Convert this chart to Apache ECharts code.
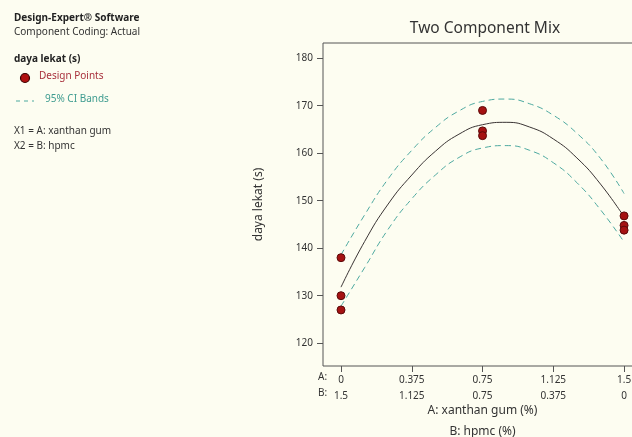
<!DOCTYPE html>
<html>
<head>
<meta charset="utf-8">
<script src="https://cdn.jsdelivr.net/npm/echarts@6/dist/echarts.min.js"></script>
<style>
  html, body { margin: 0; padding: 0; background: #fdfdf1; }
  #chart { width: 632px; height: 437px; }
</style>
</head>
<body>
<div id="chart"></div>
<script>
// design points (A: xanthan gum, response daya lekat)
var pointX = [0, 0, 0, 0.75, 0.75, 0.75, 1.5, 1.5, 1.5]
var pointY = [138, 130, 127, 169, 164.7, 163.7, 146.8, 144.8, 143.8]

// fitted curve + 95% CI bands
var curveX = [0, 0.125, 0.25, 0.375, 0.5, 0.625, 0.75, 0.875, 1, 1.125, 1.25, 1.375, 1.5]
var fitY = [131.8, 141.4, 149.3, 155.4, 160.4, 164.0, 166.0, 166.5, 165.5, 163.0, 159.0, 153.5, 146.6]
var upperY = [138.6, 147.0, 154.6, 160.6, 165.4, 168.9, 170.9, 171.4, 170.4, 168.0, 164.2, 158.9, 151.5]
var lowerY = [127.8, 135.9, 144.0, 150.4, 155.4, 159.1, 161.1, 161.6, 160.6, 158.0, 153.8, 148.1, 141.3]

// tick labels
var xTicks = [0, 0.375, 0.75, 1.125, 1.5]
var labelsA = ['0', '0.375', '0.75', '1.125', '1.5']
var labelsB = ['1.5', '1.125', '0.75', '0.375', '0']
var yTicks = [120, 130, 140, 150, 160, 170, 180]

var font = '"Noto Sans", "DejaVu Sans", sans-serif'
var teal = '#4da9a0'
var dark = '#333333'

function pairs(xs, ys) {
	var out = []
	for (var i = 0; i < xs.length; i++) out.push([xs[i], ys[i]])
	return out
}

var myChart = echarts.init(document.getElementById('chart'))
var options = {
	backgroundColor: '#fdfdf1',
	animation: false,
	textStyle: { fontFamily: font },
	title: {
		text: 'Two Component Mix',
		left: 480, top: 16, textAlign: 'center',
		textStyle: { fontFamily: font, fontSize: 15.5, fontWeight: 'normal', color: dark }
	},
	grid: {
		left: 323, top: 43, right: -10, bottom: 71,
		show: true, borderColor: '#555', borderWidth: 1,
		containLabel: false, outerBoundsMode: 'none'
	},
	xAxis: {
		type: 'value', min: -0.0954, max: 1.595,
		splitLine: { show: false },
		axisLine: { show: false, onZero: false },
		axisTick: { show: true, length: 6, lineStyle: { color: '#555' }, customValues: xTicks },
		axisLabel: {
			customValues: xTicks, color: dark, fontSize: 10, lineHeight: 16, margin: 6,
			formatter: function (v) {
				var i = xTicks.indexOf(v)
				return labelsA[i] + '\n' + labelsB[i]
			}
		},
		name: 'A: xanthan gum (%)\nB: hpmc (%)',
		nameLocation: 'middle', nameGap: 34, nameMoveOverlap: false,
		nameTextStyle: { color: dark, fontSize: 12, lineHeight: 21, fontFamily: font, verticalAlign: 'top' }
	},
	yAxis: {
		type: 'value', min: 115.2, max: 183.2,
		splitLine: { show: false },
		axisLine: { show: false, onZero: false },
		axisTick: { show: true, length: 6, lineStyle: { color: '#555' }, customValues: yTicks },
		axisLabel: { customValues: yTicks, color: dark, fontSize: 10, margin: 10 },
		name: 'daya lekat (s)',
		nameLocation: 'middle', nameGap: 58,
		nameTextStyle: { color: dark, fontSize: 12, fontFamily: font }
	},
	series: [
		{
			type: 'line', data: pairs(curveX, upperY), smooth: true, showSymbol: false,
			lineStyle: { color: teal, width: 1, type: [6, 4] }, z: 2
		},
		{
			type: 'line', data: pairs(curveX, lowerY), smooth: true, showSymbol: false,
			lineStyle: { color: teal, width: 1, type: [6, 4] }, z: 2
		},
		{
			type: 'line', data: pairs(curveX, fitY), smooth: true, showSymbol: false,
			lineStyle: { color: '#3a3434', width: 1 }, z: 3
		},
		{
			type: 'scatter', data: pairs(pointX, pointY), symbolSize: 8,
			itemStyle: { color: '#a51212', borderColor: '#5c0a0a', borderWidth: 1, opacity: 1 }, z: 4
		}
	],
	graphic: [
		{ type: 'text', left: 14, top: 13, style: { text: 'Design-Expert® Software', fontFamily: font, fontSize: 10, fontWeight: 'bold', fill: '#222' } },
		{ type: 'text', left: 14, top: 27, style: { text: 'Component Coding: Actual', fontFamily: font, fontSize: 10, fill: '#333' } },
		{ type: 'text', left: 14, top: 54, style: { text: 'daya lekat (s)', fontFamily: font, fontSize: 10, fontWeight: 'bold', fill: '#222' } },
		{ type: 'circle', shape: { cx: 25, cy: 78, r: 4.5 }, style: { fill: '#b01010', stroke: '#3a0000', lineWidth: 1.2 } },
		{ type: 'text', left: 39, top: 71, style: { text: 'Design Points', fontFamily: font, fontSize: 10, fill: '#a8303c' } },
		{ type: 'line', shape: { x1: 16, y1: 101, x2: 34, y2: 101 }, style: { stroke: teal, lineWidth: 1, lineDash: [4, 4] } },
		{ type: 'text', left: 45, top: 94, style: { text: '95% CI Bands', fontFamily: font, fontSize: 10, fill: '#3f9c90' } },
		{ type: 'text', left: 14, top: 126, style: { text: 'X1 = A: xanthan gum', fontFamily: font, fontSize: 10, fill: '#333' } },
		{ type: 'text', left: 14, top: 141, style: { text: 'X2 = B: hpmc', fontFamily: font, fontSize: 10, fill: '#333' } },
		{ type: 'text', left: 318, top: 372, style: { text: 'A:', fontFamily: font, fontSize: 10, fill: dark } },
		{ type: 'text', left: 318, top: 388, style: { text: 'B:', fontFamily: font, fontSize: 10, fill: dark } }
	]
}
myChart.setOption(options)
</script>
</body>
</html>
